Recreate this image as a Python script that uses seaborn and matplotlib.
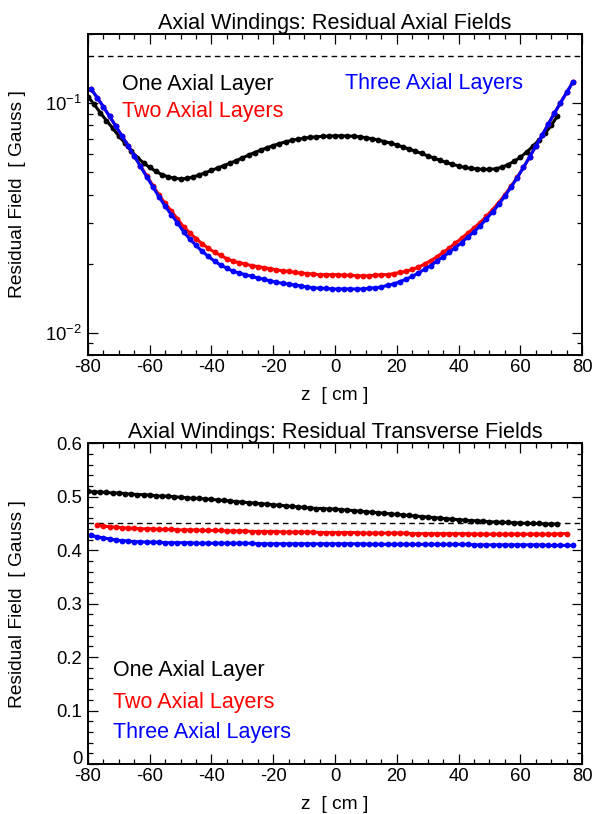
import matplotlib
matplotlib.use("Agg")
import numpy as np
import pandas as pd
import seaborn as sns
import matplotlib.pyplot as plt
import matplotlib.transforms as mtrans
from matplotlib.ticker import MultipleLocator, LogLocator, NullFormatter, LogFormatterSciNotation

# ---- data ----
layer_names = ["One Axial Layer", "Two Axial Layers", "Three Axial Layers"]
layer_colors = ["black", "red", "blue"]

# z positions (cm) of the sampled points
z_one = np.arange(-80, 73, 2)
z_two_axial = np.arange(-79, 78, 2)
z_three = np.arange(-79, 78, 2)
z_two_trans = np.arange(-77, 76, 2)

# residual axial field (Gauss), top panel
axial_one = [0.107, 0.099, 0.091, 0.084, 0.078, 0.072, 0.067, 0.062, 0.058, 0.055,
             0.0525, 0.0505, 0.0488, 0.0478, 0.0471, 0.0468, 0.0470, 0.0477, 0.0487, 0.0498,
             0.0510, 0.0522, 0.0535, 0.0548, 0.0562, 0.0578, 0.0594, 0.0610, 0.0625, 0.0640,
             0.0654, 0.0667, 0.0679, 0.0689, 0.0697, 0.0704, 0.0710, 0.0714, 0.0717, 0.0719,
             0.0720, 0.0721, 0.0720, 0.0718, 0.0714, 0.0708, 0.0700, 0.0691, 0.0681, 0.0670,
             0.0658, 0.0645, 0.0632, 0.0618, 0.0604, 0.0590, 0.0577, 0.0564, 0.0552, 0.0542,
             0.0533, 0.0525, 0.0520, 0.0517, 0.0515, 0.0515, 0.0518, 0.0526, 0.0540, 0.0558,
             0.0582, 0.0612, 0.0648, 0.0690, 0.0740, 0.0800, 0.0880]
axial_two = [0.1153, 0.1059, 0.0966, 0.0877, 0.0796, 0.0721, 0.0652, 0.0589, 0.0533, 0.0484,
             0.0438, 0.0398, 0.0366, 0.0339, 0.0313, 0.0289, 0.0272, 0.0257, 0.0244, 0.0233,
             0.0224, 0.0217, 0.0210, 0.0205, 0.0202, 0.0199, 0.0196, 0.0194, 0.0192, 0.0190,
             0.0188, 0.0186, 0.0185, 0.0183, 0.0182, 0.0181, 0.0180, 0.0179, 0.0179, 0.0179,
             0.0179, 0.0178, 0.0178, 0.0177, 0.0177, 0.0177, 0.0178, 0.0179, 0.0179, 0.0181,
             0.0183, 0.0185, 0.0189, 0.0193, 0.0199, 0.0206, 0.0214, 0.0224, 0.0234, 0.0246,
             0.0258, 0.0272, 0.0286, 0.0302, 0.0321, 0.0344, 0.0369, 0.0399, 0.0435, 0.0476,
             0.0525, 0.0583, 0.0650, 0.0724, 0.0809, 0.0904, 0.1005, 0.1114, 0.1236]
axial_three = [0.1153, 0.1059, 0.0966, 0.0877, 0.0796, 0.0721, 0.0652, 0.0589, 0.0531, 0.0479,
               0.0433, 0.0391, 0.0356, 0.0327, 0.0301, 0.0275, 0.0256, 0.0240, 0.0226, 0.0215,
               0.0205, 0.0197, 0.0191, 0.0185, 0.0182, 0.0179, 0.0176, 0.0173, 0.0171, 0.0168,
               0.0166, 0.0164, 0.0163, 0.0161, 0.0160, 0.0158, 0.0157, 0.0156, 0.0156, 0.0155,
               0.0155, 0.0155, 0.0155, 0.0155, 0.0155, 0.0156, 0.0157, 0.0158, 0.0161, 0.0163,
               0.0167, 0.0171, 0.0176, 0.0182, 0.0189, 0.0196, 0.0205, 0.0214, 0.0224, 0.0235,
               0.0247, 0.0261, 0.0275, 0.0292, 0.0313, 0.0336, 0.0362, 0.0394, 0.0431, 0.0474,
               0.0525, 0.0583, 0.0650, 0.0724, 0.0809, 0.0904, 0.1005, 0.1114, 0.1236]

# residual transverse field (Gauss), bottom panel
trans_one = [0.510, 0.509, 0.509, 0.508, 0.507, 0.507, 0.506, 0.505, 0.504, 0.504,
             0.503, 0.502, 0.501, 0.501, 0.500, 0.499, 0.498, 0.497, 0.497, 0.496,
             0.495, 0.494, 0.493, 0.492, 0.491, 0.490, 0.489, 0.488, 0.487, 0.486,
             0.485, 0.484, 0.483, 0.482, 0.481, 0.480, 0.479, 0.478, 0.478, 0.477,
             0.477, 0.476, 0.475, 0.474, 0.473, 0.472, 0.471, 0.470, 0.469, 0.468,
             0.467, 0.466, 0.465, 0.464, 0.463, 0.462, 0.461, 0.460, 0.459, 0.458,
             0.457, 0.456, 0.455, 0.455, 0.454, 0.453, 0.453, 0.452, 0.452, 0.451,
             0.451, 0.450, 0.450, 0.450, 0.449, 0.449, 0.449]
trans_two = [0.447, 0.445, 0.444, 0.443, 0.442, 0.441, 0.441, 0.440, 0.440, 0.440,
             0.439, 0.439, 0.439, 0.438, 0.438, 0.438, 0.438, 0.437, 0.437, 0.437,
             0.437, 0.436, 0.436, 0.436, 0.436, 0.435, 0.435, 0.435, 0.435, 0.435,
             0.434, 0.434, 0.434, 0.434, 0.434, 0.434, 0.433, 0.433, 0.433, 0.433,
             0.433, 0.433, 0.433, 0.432, 0.432, 0.432, 0.432, 0.432, 0.432, 0.432,
             0.432, 0.431, 0.431, 0.431, 0.431, 0.431, 0.431, 0.431, 0.431, 0.431,
             0.431, 0.430, 0.430, 0.430, 0.430, 0.430, 0.430, 0.430, 0.430, 0.430,
             0.430, 0.430, 0.430, 0.430, 0.430, 0.431, 0.431]
trans_three = [0.428, 0.425, 0.423, 0.421, 0.419, 0.418, 0.417, 0.416, 0.416, 0.415,
               0.415, 0.415, 0.414, 0.414, 0.414, 0.414, 0.414, 0.413, 0.413, 0.413,
               0.413, 0.413, 0.413, 0.413, 0.413, 0.413, 0.413, 0.412, 0.412, 0.412,
               0.412, 0.412, 0.412, 0.412, 0.412, 0.412, 0.412, 0.412, 0.412, 0.412,
               0.412, 0.412, 0.412, 0.412, 0.412, 0.411, 0.411, 0.411, 0.411, 0.411,
               0.411, 0.411, 0.411, 0.411, 0.411, 0.411, 0.411, 0.411, 0.411, 0.411,
               0.411, 0.411, 0.410, 0.410, 0.410, 0.410, 0.410, 0.410, 0.410, 0.410,
               0.410, 0.410, 0.410, 0.410, 0.409, 0.409, 0.409, 0.409, 0.409]

axial_ref = 0.16   # dashed reference line, top
trans_ref = 0.45   # dashed reference line, bottom


def long_frame(zs, vals):
    parts = []
    for name, z, v in zip(layer_names, zs, vals):
        parts.append(pd.DataFrame({"z": z, "field": v, "layers": name}))
    return pd.concat(parts, ignore_index=True)


top_df = long_frame([z_one, z_two_axial, z_three], [axial_one, axial_two, axial_three])
bot_df = long_frame([z_one, z_two_trans, z_three], [trans_one, trans_two, trans_three])

sns.set_style("ticks")
plt.rcParams["font.family"] = ["Liberation Sans", "DejaVu Sans"]
plt.rcParams["mathtext.fontset"] = "custom"
plt.rcParams["mathtext.rm"] = "Liberation Sans"
plt.rcParams["mathtext.it"] = "Liberation Sans:italic"
plt.rcParams["axes.unicode_minus"] = False
for key in ["text.color", "axes.labelcolor", "xtick.color", "ytick.color", "axes.edgecolor"]:
    plt.rcParams[key] = "black"

fig = plt.figure(figsize=(5.94, 8.14), dpi=100)
ax1 = fig.add_axes([0.148, 0.564, 0.832, 0.394])
ax2 = fig.add_axes([0.148, 0.0614, 0.832, 0.394])

palette = dict(zip(layer_names, layer_colors))


def draw(ax, df, ref, title):
    ax.axhline(ref, color="black", ls=(0, (4, 3)), lw=1.0, zorder=1)
    sns.lineplot(data=df, x="z", y="field", hue="layers", hue_order=layer_names,
                 palette=palette, marker="o", markersize=4.2, markeredgewidth=0,
                 linewidth=2.2, errorbar=None, legend=False, ax=ax)
    ax.set_xlim(-80, 80)
    ax.xaxis.set_major_locator(MultipleLocator(20))
    ax.xaxis.set_minor_locator(MultipleLocator(5))
    ax.tick_params(which="both", direction="in", top=True, right=True,
                   labelsize=13.3, width=0.9, color="black", labelcolor="black")
    ax.tick_params(which="major", length=7.5)
    ax.tick_params(which="minor", length=3.8)
    ax.tick_params(axis="x", pad=3)
    ax.tick_params(axis="y", pad=4)
    for sp in ax.spines.values():
        sp.set_linewidth(1.4)
        sp.set_color("black")
    ax.set_title(title, fontsize=15.6, pad=3)
    ax.set_xlabel("z  [ cm ]", fontsize=13.8)
    ax.set_ylabel("Residual Field  [ Gauss ]", fontsize=13.8)
    ax.xaxis.set_label_coords(0.5, -0.10)
    ax.yaxis.set_label_coords(-0.125, 0.5)


draw(ax1, top_df, axial_ref, "Axial Windings: Residual Axial Fields")
ax1.set_yscale("log")
ax1.set_ylim(0.008, 0.2)
ax1.yaxis.set_major_locator(LogLocator(base=10))
ax1.yaxis.set_minor_locator(LogLocator(base=10, subs=np.arange(2, 10)))
ax1.yaxis.set_major_formatter(LogFormatterSciNotation())
ax1.yaxis.set_minor_formatter(NullFormatter())

draw(ax2, bot_df, trans_ref, "Axial Windings: Residual Transverse Fields")
ax2.set_ylim(0, 0.6)
ax2.yaxis.set_major_locator(MultipleLocator(0.1))
ax2.yaxis.set_minor_locator(MultipleLocator(0.02))
ax2.yaxis.set_major_formatter(plt.FuncFormatter(lambda v, p: f"{v:g}"))

# in-plot labels
ax1.text(0.069, 0.844, "One Axial Layer", color="black", fontsize=15.5,
         transform=ax1.transAxes, va="center")
ax1.text(0.069, 0.760, "Two Axial Layers", color="red", fontsize=15.5,
         transform=ax1.transAxes, va="center")
ax1.text(0.520, 0.847, "Three Axial Layers", color="blue", fontsize=15.5,
         transform=ax1.transAxes, va="center")

ax2.text(0.051, 0.293, "One Axial Layer", color="black", fontsize=15.5,
         transform=ax2.transAxes, va="center")
ax2.text(0.051, 0.193, "Two Axial Layers", color="red", fontsize=15.5,
         transform=ax2.transAxes, va="center")
ax2.text(0.051, 0.097, "Three Axial Layers", color="blue", fontsize=15.5,
         transform=ax2.transAxes, va="center")

# nudge the "0" label of the lower panel up so it clears "-80"
fig.canvas.draw()
for tick in ax2.yaxis.get_major_ticks():
    if tick.label1.get_text() == "0":
        lab = tick.label1
        lab.set_transform(lab.get_transform() +
                          mtrans.ScaledTranslation(0, 5 / 72, fig.dpi_scale_trans))

fig.savefig("out.png", dpi=100)
